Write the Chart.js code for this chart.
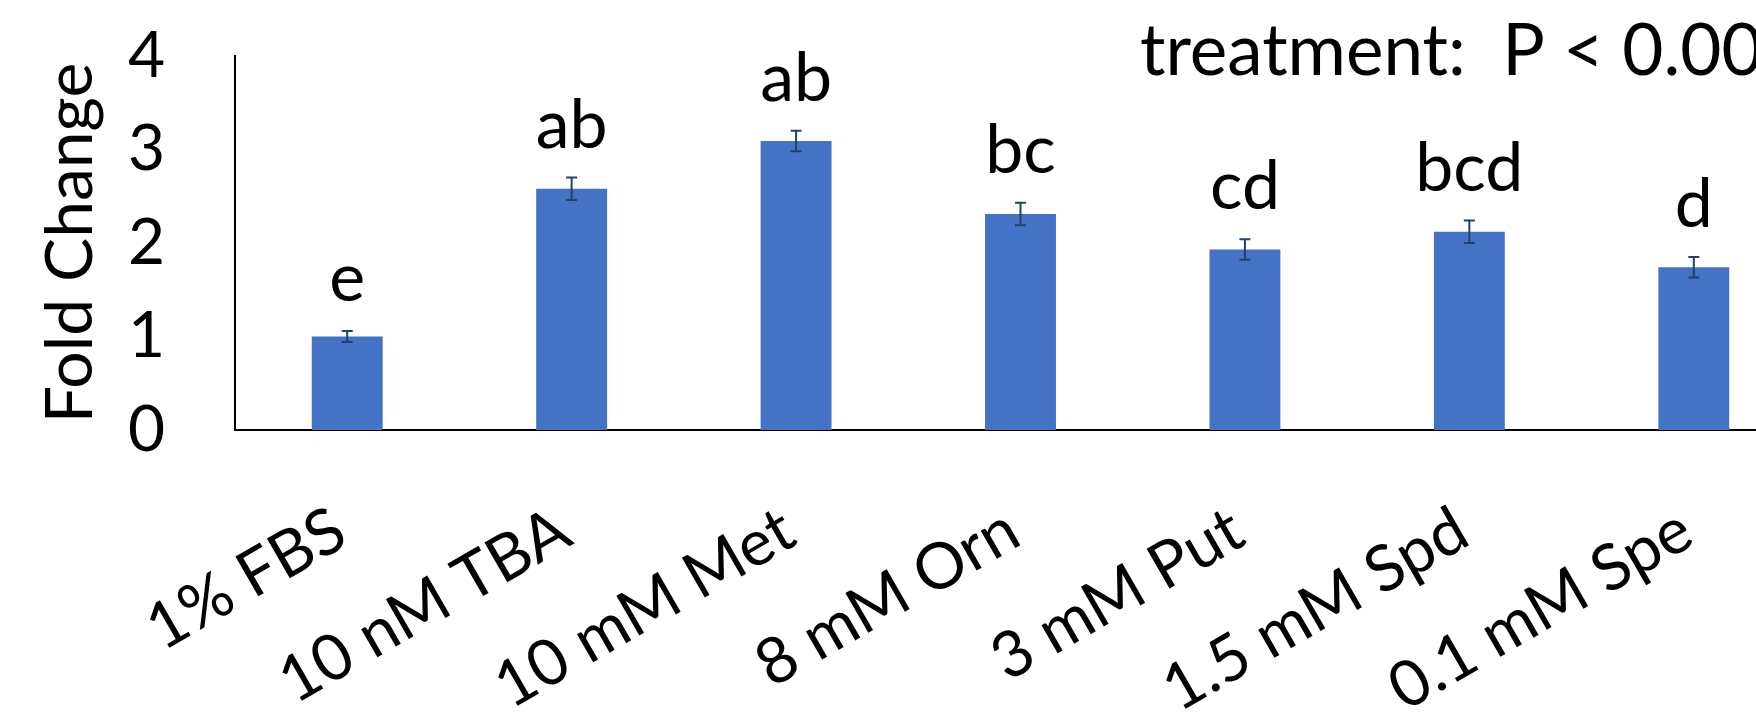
<!DOCTYPE html>
<html>
<head>
<meta charset="utf-8">
<script src="https://cdn.jsdelivr.net/npm/chart.js@4.4.1/dist/chart.umd.min.js"></script>
<style>
  html, body { margin: 0; padding: 0; background: #ffffff; overflow: hidden; }
  #wrap { width: 1808px; height: 723px; position: relative; }
</style>
</head>
<body>
<div id="wrap"><canvas id="c"></canvas></div>
<script>
const categories = ['1% FBS', '10 nM TBA', '10 mM Met', '8 mM Orn', '3 mM Put', '1.5 mM Spd', '0.1 mM Spe'];
const foldChange = [1.00, 2.58, 3.09, 2.31, 1.93, 2.12, 1.74];
const errors = [0.06, 0.12, 0.11, 0.12, 0.11, 0.12, 0.11];
const groupLetters = ['e', 'ab', 'ab', 'bc', 'cd', 'bcd', 'd'];
const yTicks = [0, 1, 2, 3, 4];
const annotationText = 'treatment:  P < 0.001';

const FONT = 'Lato, "Open Sans", sans-serif';

const errorBarPlugin = {
  id: 'errorBars',
  afterDatasetsDraw(chart) {
    const ctx = chart.ctx;
    const meta = chart.getDatasetMeta(0);
    const y = chart.scales.y;
    ctx.save();
    ctx.strokeStyle = '#24406f';
    ctx.lineWidth = 2;
    meta.data.forEach((bar, i) => {
      const v = foldChange[i], e = errors[i];
      const yTop = y.getPixelForValue(v + e);
      const yBot = y.getPixelForValue(v - e);
      const cx = bar.x;
      const cap = 5.5;
      ctx.beginPath();
      ctx.moveTo(cx, yTop); ctx.lineTo(cx, yBot);
      ctx.moveTo(cx - cap, yTop); ctx.lineTo(cx + cap, yTop);
      ctx.moveTo(cx - cap, yBot); ctx.lineTo(cx + cap, yBot);
      ctx.stroke();
      ctx.fillStyle = '#000000';
      ctx.font = '68px ' + FONT;
      ctx.textAlign = 'center';
      ctx.textBaseline = 'alphabetic';
      ctx.fillText(groupLetters[i], cx, yTop - 30);
    });
    ctx.font = '71px ' + FONT;
    ctx.textAlign = 'left';
    ctx.textBaseline = 'alphabetic';
    ctx.fillStyle = '#000000';
    ctx.fillText(annotationText, 1140, 75);
    ctx.restore();
  }
};

new Chart(document.getElementById('c'), {
  type: 'bar',
  data: {
    labels: categories,
    datasets: [{
      data: foldChange,
      backgroundColor: '#4472C4',
      borderWidth: 0,
      categoryPercentage: 0.316,
      barPercentage: 1.0
    }]
  },
  options: {
    responsive: true,
    maintainAspectRatio: false,
    animation: false,
    events: [],
    layout: { padding: { top: 56, right: 2, bottom: 0, left: 0 } },
    plugins: { legend: { display: false }, tooltip: { enabled: false }, title: { display: false } },
    scales: {
      x: {
        grid: { display: false, drawTicks: false },
        border: { display: true, color: '#000000', width: 2 },
        ticks: {
          color: '#000000',
          font: { family: FONT, size: 64 },
          minRotation: 30,
          maxRotation: 30,
          padding: 62,
          labelOffset: -7,
          autoSkip: false
        },
        afterFit(scale) { scale.height = 723 - 430; }
      },
      y: {
        min: 0,
        max: 4,
        afterBuildTicks(scale) { scale.ticks = yTicks.map(v => ({ value: v })); },
        grid: { display: false, drawTicks: false },
        border: { display: true, color: '#000000', width: 2 },
        ticks: {
          color: '#000000',
          font: { family: FONT, size: 64 },
          padding: 70
        },
        title: {
          display: true,
          text: 'Fold Change',
          color: '#000000',
          font: { family: FONT, size: 66 },
          padding: { top: 31, bottom: 0 }
        },
        afterFit(scale) {
          scale.width = 235;
          scale.paddingTop = 0;
          scale.paddingBottom = 0;
        }
      }
    }
  },
  plugins: [errorBarPlugin]
});
</script>
</body>
</html>
